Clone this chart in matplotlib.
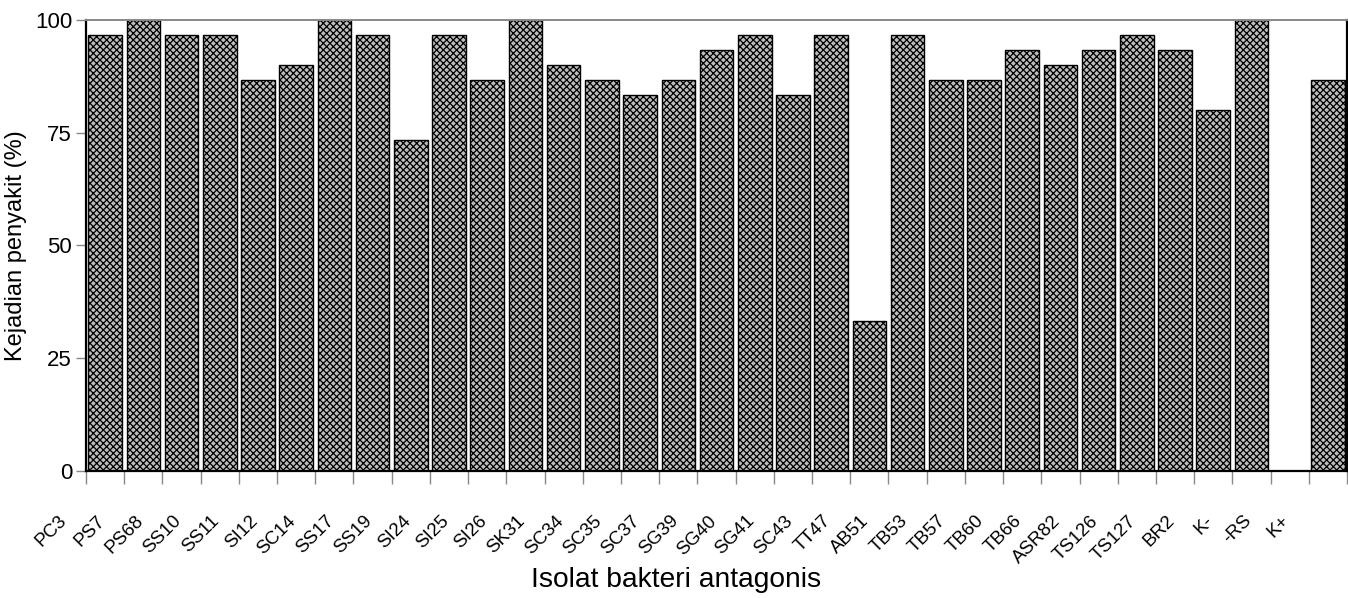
import numpy as np
import matplotlib
matplotlib.use("Agg")
import matplotlib.pyplot as plt
import matplotlib.transforms as mtransforms

# data
isolat = ["PC3", "PS7", "PS68", "SS10", "SS11", "SI12", "SC14", "SS17", "SS19",
          "SI24", "SI25", "SI26", "SK31", "SC34", "SC35", "SC37", "SG39", "SG40",
          "SG41", "SC43", "TT47", "AB51", "TB53", "TB57", "TB60", "TB66", "ASR82",
          "TS126", "TS127", "BR2", "K-", "-RS", "K+"]
kejadian = [96.67, 100, 96.67, 96.67, 86.67, 90, 100, 96.67, 73.33,
            96.67, 86.67, 100, 90, 86.67, 83.33, 86.67, 93.33, 96.67,
            83.33, 96.67, 33.33, 96.67, 86.67, 86.67, 93.33, 90, 93.33,
            96.67, 93.33, 80, 100, 0, 86.67]
y_ticks = [0, 25, 50, 75, 100]

plt.rcParams['font.family'] = ['Liberation Sans', 'DejaVu Sans']
plt.rcParams['hatch.linewidth'] = 0.9
plt.rcParams['hatch.color'] = '#1a1a1a'

fig = plt.figure(figsize=(13.48, 5.98), dpi=100)
ax = fig.add_axes([0.0638, 0.2124, 0.9355, 0.7542])

x = np.arange(len(isolat))
ax.bar(x, kejadian, width=0.88, color='#bdbdbd', edgecolor='black',
       linewidth=1.0, hatch='xxxxx')

ax.set_xlim(-0.5, len(isolat) - 0.5)
ax.set_ylim(0, 100)
ax.set_yticks(y_ticks)
ax.tick_params(axis='y', labelsize=16, length=7, width=1, color='#888888', pad=3)

# ticks at the category boundaries, labels at the centres
ax.set_xticks(x)
ax.set_xticks(np.arange(-0.5, len(isolat)), minor=True)
ax.tick_params(axis='x', which='major', length=0, labelsize=13.5, pad=6)
ax.tick_params(axis='x', which='minor', length=9, width=1, color='#888888')
ax.set_xticklabels(isolat, rotation=45, ha='right', va='top')
offset = mtransforms.ScaledTranslation(-0.35, -0.33, fig.dpi_scale_trans)
for lab in ax.get_xticklabels():
    lab.set_transform(lab.get_transform() + offset)

for side in ['left', 'bottom', 'right']:
    ax.spines[side].set_color('black')
    ax.spines[side].set_linewidth(1.6)
ax.spines['top'].set_color('#888888')
ax.spines['top'].set_linewidth(1.4)

ax.set_ylabel('Kejadian penyakit (%)', fontsize=17, labelpad=6)
ax.set_xlabel('Isolat bakteri antagonis', fontsize=20.3)
ax.xaxis.set_label_coords(0.468, -0.213)

fig.savefig('out.png', dpi=100)
